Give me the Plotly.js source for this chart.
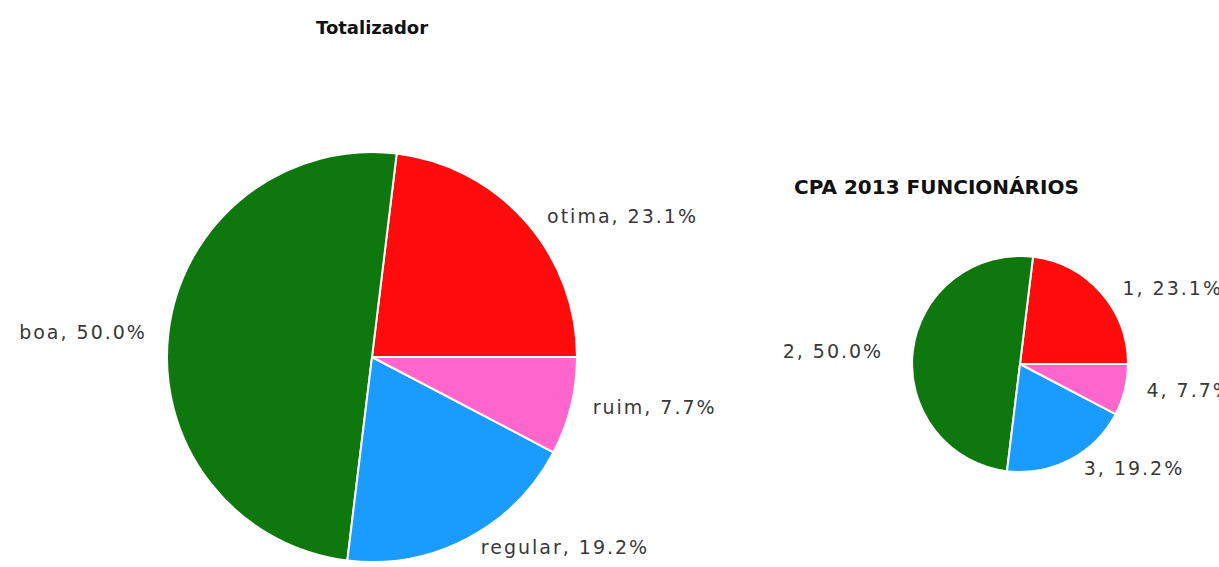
<!DOCTYPE html>
<html>
<head>
<meta charset="utf-8">
<script src="https://cdn.plot.ly/plotly-3.0.1.min.js"></script>
<style>
  html, body { margin: 0; padding: 0; background: #fff; }
  #chart { width: 1219px; height: 567px; }
  text.slicetext { letter-spacing: 2px; }
</style>
</head>
<body>
<div id="chart"></div>
<script>
// Data (counts out of 26)
const totalLabels = ["otima", "boa", "regular", "ruim"];
const totalValues = [6, 13, 5, 2];
const cpaLabels = ["1", "2", "3", "4"];
const cpaValues = [6, 13, 5, 2];
const sliceColors = ["#fe0b0b", "#0e770e", "#1a9cff", "#ff66cc"];
const titles = ["Totalizador", "CPA 2013 FUNCIONÁRIOS"];

const W = 1219, H = 567;
const px = v => v / W;
const py = v => (H - v) / H;
const NB = "\u00a0";
const base = "%{label}, %{percent:.1%}";

const common = {
  type: "pie",
  sort: false,
  direction: "counterclockwise",
  rotation: 90 - 360 * totalValues[0] / totalValues.reduce((a, b) => a + b, 0),
  textposition: "outside",
  hoverinfo: "label+value+percent",
  showlegend: false,
  marker: { colors: sliceColors, line: { color: "#ffffff", width: 2 } },
  outsidetextfont: { family: "DejaVu Sans, Verdana, sans-serif", size: 19, color: "#383838" }
};

const traces = [
  Object.assign({}, common, {
    labels: totalLabels, values: totalValues,
    texttemplate: [NB + NB + base, base + NB + NB, NB + base, NB + NB + base],
    domain: { x: [px(167), px(577)], y: [py(562), py(152)] }
  }),
  Object.assign({}, common, {
    labels: cpaLabels, values: cpaValues,
    texttemplate: [NB + NB + base, base + NB + NB + NB, NB + base, NB + NB + base],
    domain: { x: [px(912), px(1128)], y: [py(472), py(256)] }
  })
];

const layout = {
  width: W, height: H,
  margin: { l: 0, r: 0, t: 0, b: 0 },
  paper_bgcolor: "#ffffff",
  plot_bgcolor: "#ffffff",
  annotations: [
    { text: "<b>" + titles[0] + "</b>", x: px(372), y: py(27), xref: "paper", yref: "paper",
      xanchor: "center", yanchor: "middle", showarrow: false,
      font: { family: "DejaVu Sans, Verdana, sans-serif", size: 18, color: "#111111" } },
    { text: "<b>" + titles[1] + "</b>", x: px(792), y: py(187), xref: "paper", yref: "paper",
      xanchor: "left", yanchor: "middle", showarrow: false,
      font: { family: "DejaVu Sans, Verdana, sans-serif", size: 20, color: "#111111" } }
  ]
};

Plotly.newPlot("chart", traces, layout, { displayModeBar: false, staticPlot: true });
</script>
</body>
</html>
